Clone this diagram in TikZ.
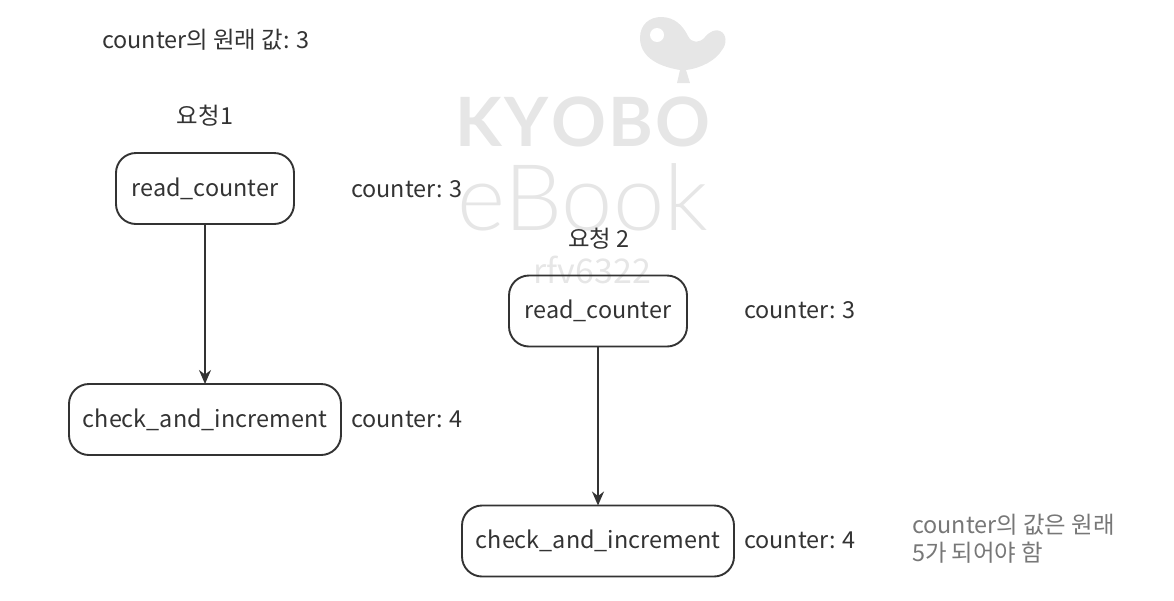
\documentclass[tikz,border=0pt]{standalone}
\usepackage{fontspec}
\setmainfont{Noto Sans CJK KR}
\newfontfamily\wmbold{Lato Bold}
\newfontfamily\wmthin{Lato Light}
\usetikzlibrary{arrows.meta}
\definecolor{ink}{HTML}{333333}
\definecolor{wm}{HTML}{E6E6E6}
\definecolor{note}{HTML}{777777}
\tikzset{
 x=1pt,y=-1pt,
 every node/.style={inner sep=0pt,outer sep=0pt,text=ink,font=\fontsize{23.4}{27}\selectfont},
 fnbox/.style={draw=ink,line width=1.9pt,rounded corners=20pt,anchor=center,minimum height=71pt},
 short/.style={fnbox,minimum width=178pt},
 long/.style={fnbox,minimum width=272pt},
 label/.style={anchor=west},
 flow/.style={draw=ink,line width=1.9pt,-{Stealth[length=14pt,width=12pt]}},
 wmark/.style={text=wm,anchor=center},
}
\begin{document}
\begin{tikzpicture}
\useasboundingbox (0,0) rectangle (1174,600);
% watermark
\fill[wm] (640,38) .. controls (640,24) and (650,17) .. (661,17)
  .. controls (675,17) and (683,26) .. (688,36)
  .. controls (692,44) and (700,43) .. (705,37)
  .. controls (710,31) and (716,29) .. (720,31)
  .. controls (727,34) and (727,44) .. (722,50)
  .. controls (716,60) and (702,68) .. (686,70)
  -- (690,83) -- (677,83) -- (680,70)
  .. controls (655,66) and (640,55) .. (640,38) -- cycle;
\fill[white] (657,35) circle (7pt);
\node[wmark,font=\wmbold\fontsize{68}{68}\selectfont] (wm1) at (583,122) {K\kern2.5pt Y\kern2.5pt O\kern2.5pt B\kern2.5pt O};
\node[wmark,font=\wmthin\fontsize{92}{92}\selectfont] (wm2) at (583,197) {eBook};
\node[wmark,font=\fontsize{34}{34}\selectfont] (wm3) at (592,270) {rfv6322};
% texts
\node[label] (orig) at (102,40) {counter의 원래 값: 3};
\node (r1) at (205,116) {요청1};
\node (r2) at (599,239) {요청 2};
% boxes
\node[short] (a) at (205,188.5) {read\_counter};
\node[long] (b) at (205,419.5) {check\_and\_increment};
\node[short] (c) at (598,311) {read\_counter};
\node[long] (d) at (598,541) {check\_and\_increment};
\draw[flow] (a.south) -- (b.north);
\draw[flow] (c.south) -- (d.north);
% labels
\node[label] (l1) at (351,189) {counter: 3};
\node[label] (l2) at (351,419) {counter: 4};
\node[label] (l3) at (744,310) {counter: 3};
\node[label] (l4) at (744,540) {counter: 4};
\node[label,text=note,align=left,font=\fontsize{23.4}{28}\selectfont] (n) at (912,539) {counter의 값은 원래\\5가 되어야 함};
\end{tikzpicture}
\end{document}
